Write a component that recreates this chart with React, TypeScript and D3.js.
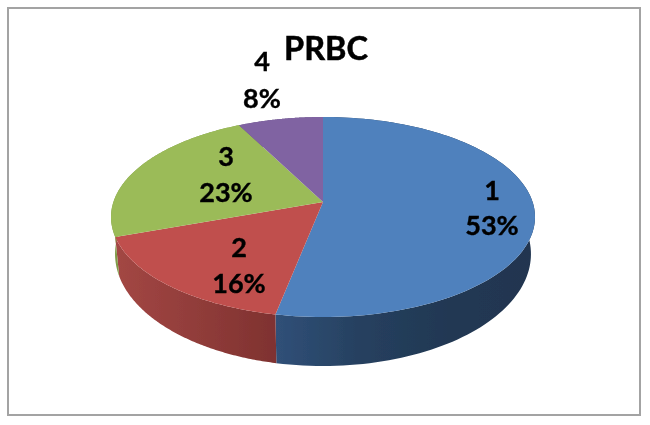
import React from "react";
import * as d3 from "d3";

const categories = ["1", "2", "3", "4"];
const shares = [53.1, 16.4, 23, 7.5];
const topColors = ["#4f81bd", "#c0504d", "#9bbb59", "#8064a2"];
const sideStops = [
  ["#305078", "#26405f", "#213853", "#203550"],
  ["#a34744", "#7f3230"],
  ["#7f9a46", "#7f9a46"],
  ["#64507f", "#64507f"],
];
const labelPos = [
  [492, 200, 235],
  [239, 257, 293],
  [226, 166, 202],
  [262, 71, 108],
];

const W = 650, H = 425, CX = 323, K = -0.15;
// projective map of a circle, so the apex sits above the ellipse centre as in the tilted 3-D pie
const project = (theta: number, apexY: number, a: number, b: number): [number, number] => {
  const X = Math.sin(theta), Y = -Math.cos(theta), w = 1 + K * Y;
  return [CX + (a * X) / w, apexY + (b * Y) / w];
};
const top = (t: number) => project(t, 202, 209.6, 97.75);
const bottom = (t: number) => project(t, 237.2, 205.6, 109.5);
const line = d3.line();

export default function App() {
  const arcs = d3.pie<number>().sort(null)(shares);
  const sampled = (s: number, e: number) => d3.range(0, 121).map((i) => s + ((e - s) * i) / 120);
  return (
    <svg width={W} height={H} style={{ position: "absolute", left: 0, top: 0 }} fontFamily="Lato, Carlito, sans-serif" fontWeight={700}>
      <defs>
        <filter id="soft" x="0" y="0" width="1" height="1" filterUnits="objectBoundingBox">
          <feGaussianBlur stdDeviation={0.5} />
        </filter>
        {arcs.map((d, i) => {
          const xs = sampled(d.startAngle, d.endAngle).map((t) => top(t)[0]);
          const [x0, x1] = d3.extent(xs) as [number, number];
          const stops = sideStops[i];
          return (
            <linearGradient key={i} id={`side${i}`} gradientUnits="userSpaceOnUse" x1={x0} x2={x1} y1={0} y2={0}>
              {stops.map((c, j) => (
                <stop key={j} offset={j / (stops.length - 1)} stopColor={c} />
              ))}
            </linearGradient>
          );
        })}
      </defs>
      <g filter="url(#soft)">
        <rect x={0} y={0} width={W} height={H} fill="#fff" />
        <rect x={8} y={8} width={632} height={407} fill="#fff" stroke="#a3a3a3" strokeWidth={2} />
        {arcs.map((d, i) => {
          const ts = sampled(d.startAngle, d.endAngle);
          const pts = [...ts.map(top), ...ts.slice().reverse().map(bottom)];
          return <path key={i} d={line(pts) + "Z"} fill={`url(#side${i})`} />;
        })}
        {arcs.map((d, i) => {
          const pts: [number, number][] = [[CX, 202], ...sampled(d.startAngle, d.endAngle).map(top)];
          return <path key={i} d={line(pts) + "Z"} fill={topColors[i]} />;
        })}
        <text x={326} y={60} textAnchor="middle" fontSize={32.5} fill="#000" stroke="#000" strokeWidth={0.5}>PRBC</text>
        {categories.map((c, i) => (
          <g key={c} textAnchor="middle" fontSize={27} fill="#000" stroke="#000" strokeWidth={0.4}>
            <text x={labelPos[i][0]} y={labelPos[i][1]}>{c}</text>
            <text x={labelPos[i][0]} y={labelPos[i][2]}>{Math.round(shares[i])}%</text>
          </g>
        ))}
      </g>
    </svg>
  );
}
